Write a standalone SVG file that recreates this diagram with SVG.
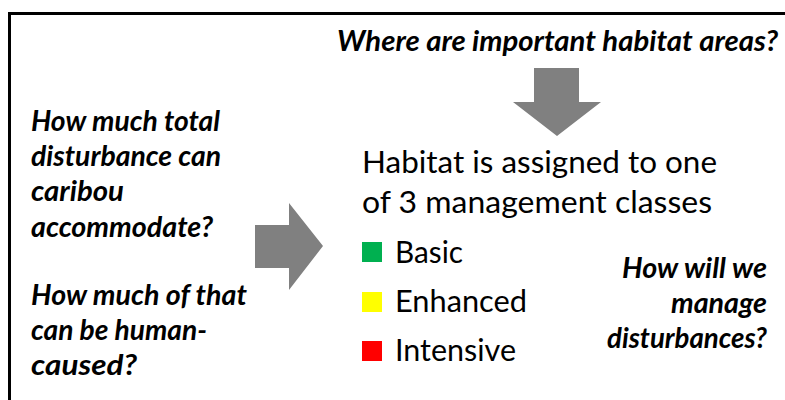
<svg xmlns="http://www.w3.org/2000/svg" width="785" height="400" viewBox="0 0 785 400">
  <style>
    .q { font-family: Lato, "Open Sans", "Liberation Sans", sans-serif; font-weight: bold; font-style: italic; font-size: 28px; fill: #000; }
    .b { font-family: Lato, "Open Sans", "Liberation Sans", sans-serif; font-size: 30.5px; fill: #000; }
    .arrow { fill: #808080; }
  </style>
  <rect width="785" height="400" fill="#fff"/>
  <!-- outer frame, right and bottom edges run off the canvas -->
  <rect x="9.5" y="13.5" width="800" height="420" fill="none" stroke="#000" stroke-width="3"/>

  <g id="q-habitat">
    <text class="q" x="337" y="51" textLength="441" lengthAdjust="spacingAndGlyphs">Where are important habitat areas?</text>
  </g>

  <g id="connectors">
    <polygon class="arrow" points="534,68 579,68 579,102 601,102 557,136 513,102 534,102"/>
    <polygon class="arrow" points="255,225 289,225 289,203 323,246 289,290 289,268 255,268"/>
  </g>

  <g id="q-total">
    <text class="q" x="31" y="131" textLength="189" lengthAdjust="spacingAndGlyphs">How much total</text>
    <text class="q" x="31" y="166" textLength="190" lengthAdjust="spacingAndGlyphs">disturbance can</text>
    <text class="q" x="31" y="201" textLength="93" lengthAdjust="spacingAndGlyphs">caribou</text>
    <text class="q" x="31" y="237" textLength="182" lengthAdjust="spacingAndGlyphs">accommodate?</text>
  </g>

  <g id="q-human">
    <text class="q" x="31" y="305" textLength="216" lengthAdjust="spacingAndGlyphs">How much of that</text>
    <text class="q" x="31" y="340" textLength="176" lengthAdjust="spacingAndGlyphs">can be human-</text>
    <text class="q" x="31" y="375" textLength="106" lengthAdjust="spacingAndGlyphs">caused?</text>
  </g>

  <g id="classes">
    <text class="b" x="362" y="173" textLength="355" lengthAdjust="spacingAndGlyphs">Habitat is assigned to one</text>
    <text class="b" x="362" y="213" textLength="350" lengthAdjust="spacingAndGlyphs">of 3 management classes</text>
    <rect x="362" y="242" width="20" height="20" fill="#00B050"/>
    <text class="b" x="395" y="263" textLength="68" lengthAdjust="spacingAndGlyphs">Basic</text>
    <rect x="362" y="292" width="20" height="20" fill="#FFFF00"/>
    <text class="b" x="395" y="312" textLength="132" lengthAdjust="spacingAndGlyphs">Enhanced</text>
    <rect x="362" y="341" width="20" height="20" fill="#FF0000"/>
    <text class="b" x="395" y="361" textLength="121" lengthAdjust="spacingAndGlyphs">Intensive</text>
  </g>

  <g id="q-manage">
    <text class="q" x="622" y="278" textLength="145" lengthAdjust="spacingAndGlyphs">How will we</text>
    <text class="q" x="671" y="313" textLength="96" lengthAdjust="spacingAndGlyphs">manage</text>
    <text class="q" x="607" y="348" textLength="160" lengthAdjust="spacingAndGlyphs">disturbances?</text>
  </g>
</svg>
